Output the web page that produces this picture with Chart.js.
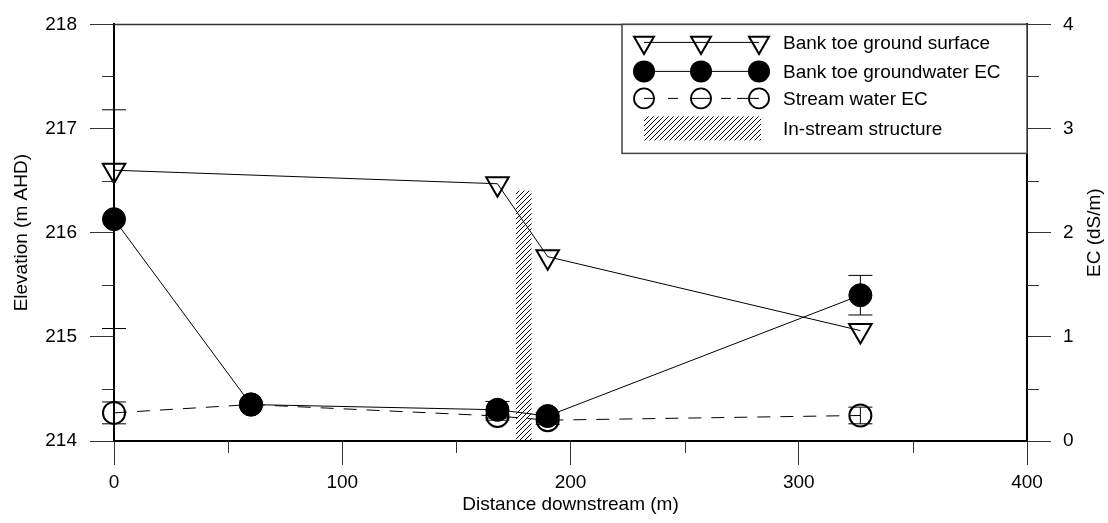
<!DOCTYPE html>
<html>
<head>
<meta charset="utf-8">
<script src="https://cdn.jsdelivr.net/npm/chart.js@4/dist/chart.umd.min.js"></script>
<style>
  body { margin: 0; background: #fff; }
  #wrap { width: 1108px; height: 523px; }
</style>
</head>
<body>
<div id="wrap"><canvas id="myChart"></canvas></div>
<script>
// values
const surfaceDist = [0, 168, 190, 327];
const surfaceElev = [216.6, 216.47, 215.77, 215.06];

const gwDist = [0, 60, 168, 190, 327];
const gwEC = [2.13, 0.35, 0.30, 0.24, 1.40];
const gwErr = [1.05, 0, 0.08, 0.03, 0.19];

const swDist = [0, 60, 168, 190, 327];
const swEC = [0.27, 0.35, 0.24, 0.20, 0.245];
const swErr = [0.105, 0, 0.04, 0.04, 0.08];

const structureDist = [179.5];
const structureTop = [216.4];
const elevBase = 214;

const xTicks = [0, 100, 200, 300, 400];
const elevTicks = [214, 215, 216, 217, 218];
const ecTicks = [0, 1, 2, 3, 4];

const FONT = "'Liberation Sans', Arial, sans-serif";
Chart.defaults.font.family = FONT;
Chart.defaults.font.size = 19;
Chart.defaults.color = '#000';

function hatch() {
  const c = document.createElement('canvas');
  c.width = 5; c.height = 5;
  const g = c.getContext('2d');
  g.strokeStyle = '#000';
  g.lineWidth = 1;
  g.beginPath();
  g.moveTo(0, 5); g.lineTo(5, 0);
  g.moveTo(-1, 1); g.lineTo(1, -1);
  g.moveTo(4, 6); g.lineTo(6, 4);
  g.stroke();
  return g.createPattern(c, 'repeat');
}
const hatchFill = hatch();

function pts(xs, ys) { return xs.map((x, i) => ({ x: x, y: ys[i] })); }

function tri(ctx, x, y, r) {
  ctx.beginPath();
  ctx.moveTo(x, y + r);
  ctx.lineTo(x - r * Math.sin(Math.PI / 3), y - r / 2);
  ctx.lineTo(x + r * Math.sin(Math.PI / 3), y - r / 2);
  ctx.closePath();
  ctx.stroke();
}
function circ(ctx, x, y, r, fill) {
  ctx.beginPath();
  ctx.arc(x, y, r, 0, Math.PI * 2);
  if (fill) ctx.fill(); else ctx.stroke();
}

// error bars, drawn under the markers
const errorBars = {
  id: 'errorBars',
  beforeDatasetsDraw(chart) {
    const ctx = chart.ctx;
    chart.data.datasets.forEach(ds => {
      if (!ds.errors) return;
      const xs = chart.scales.x, ys = chart.scales[ds.yAxisID];
      ctx.save();
      ctx.strokeStyle = '#000';
      ctx.lineWidth = 1;
      ds.data.forEach((p, j) => {
        const e = ds.errors[j];
        if (!e) return;
        const px = xs.getPixelForValue(p.x);
        const t = ys.getPixelForValue(p.y + e), b = ys.getPixelForValue(p.y - e);
        ctx.beginPath();
        ctx.moveTo(px, t); ctx.lineTo(px, b);
        ctx.moveTo(px - 12, t); ctx.lineTo(px + 12, t);
        ctx.moveTo(px - 12, b); ctx.lineTo(px + 12, b);
        ctx.stroke();
      });
      ctx.restore();
    });
  }
};

// frame top, minor ticks, right title, legend
const extras = {
  id: 'extras',
  afterDraw(chart) {
    const ctx = chart.ctx, a = chart.chartArea;
    const sx = chart.scales.x, sl = chart.scales.yL, sr = chart.scales.yR;
    ctx.save();
    ctx.strokeStyle = '#333';
    ctx.lineWidth = 1.5;
    ctx.beginPath();
    ctx.moveTo(a.left, a.top); ctx.lineTo(a.right, a.top);
    ctx.stroke();

    ctx.lineWidth = 1;
    ctx.beginPath();
    for (let v = xTicks[0] + 50; v < xTicks[xTicks.length - 1]; v += 100) {
      const p = Math.round(sx.getPixelForValue(v)) + 0.5;
      ctx.moveTo(p, a.bottom); ctx.lineTo(p, a.bottom + 12);
    }
    for (let v = elevTicks[0] + 0.5; v < elevTicks[elevTicks.length - 1]; v += 1) {
      const p = Math.round(sl.getPixelForValue(v)) + 0.5;
      ctx.moveTo(a.left - 12, p); ctx.lineTo(a.left, p);
    }
    for (let v = ecTicks[0] + 0.5; v < ecTicks[ecTicks.length - 1]; v += 1) {
      const p = Math.round(sr.getPixelForValue(v)) + 0.5;
      ctx.moveTo(a.right, p); ctx.lineTo(a.right + 12, p);
    }
    ctx.stroke();

    // right axis title, reading upward
    ctx.fillStyle = '#000';
    ctx.font = '19px ' + FONT;
    ctx.textAlign = 'center';
    ctx.textBaseline = 'middle';
    ctx.save();
    ctx.translate(1095, (a.top + a.bottom) / 2);
    ctx.rotate(-Math.PI / 2);
    ctx.fillText('EC (dS/m)', 0, 0);
    ctx.restore();

    // legend
    const R = a.right, L = R - 405, T = a.top, B = T + 129;
    ctx.fillStyle = '#fff';
    ctx.fillRect(L, T, R - L, B - T);
    ctx.strokeStyle = '#444';
    ctx.lineWidth = 1.5;
    ctx.strokeRect(L, T, R - L, B - T);

    const mx = [L + 22, L + 79, L + 137];
    const rows = [T + 18, T + 47, T + 74, T + 104];
    const ds = chart.data.datasets;
    ctx.strokeStyle = '#000';
    ctx.fillStyle = '#000';

    ctx.lineWidth = 1;
    ctx.beginPath(); ctx.moveTo(mx[0], rows[0]); ctx.lineTo(mx[2], rows[0]); ctx.stroke();
    ctx.lineWidth = 2;
    mx.forEach(x => tri(ctx, x, rows[0], 11.5));

    ctx.lineWidth = 1;
    ctx.beginPath(); ctx.moveTo(mx[0], rows[1]); ctx.lineTo(mx[2], rows[1]); ctx.stroke();
    mx.forEach(x => circ(ctx, x, rows[1], 11, true));

    ctx.lineWidth = 1;
    ctx.beginPath();
    [[mx[0], mx[0] + 11], [mx[0] + 24, mx[0] + 34], [mx[1] - 11, mx[1] + 11],
     [mx[1] + 20, mx[1] + 30], [mx[2] - 22, mx[2]]].forEach(s => {
      ctx.moveTo(s[0], rows[2]); ctx.lineTo(s[1], rows[2]);
    });
    ctx.stroke();
    ctx.lineWidth = 1.8;
    mx.forEach(x => circ(ctx, x, rows[2], 10, false));

    ctx.fillStyle = hatchFill;
    ctx.fillRect(mx[0], rows[3] - 12, mx[2] + 2 - mx[0], 24);

    ctx.fillStyle = '#000';
    ctx.textAlign = 'left';
    ctx.font = '19px ' + FONT;
    rows.forEach((y, i) => ctx.fillText(ds[i].label, L + 161, y + 1));
    ctx.restore();
  }
};

const ctx = document.getElementById('myChart').getContext('2d');

new Chart(ctx, {
  type: 'line',
  data: {
    datasets: [
      {
        label: 'Bank toe ground surface',
        yAxisID: 'yL',
        data: pts(surfaceDist, surfaceElev),
        borderColor: '#000',
        borderWidth: 1,
        pointStyle: 'triangle',
        rotation: 180,
        pointRadius: 13,
        pointBorderWidth: 2,
        pointBorderColor: '#000',
        pointBackgroundColor: 'rgba(0,0,0,0)',
        clip: false
      },
      {
        label: 'Bank toe groundwater EC',
        yAxisID: 'yR',
        data: pts(gwDist, gwEC),
        errors: gwErr,
        borderColor: '#000',
        borderWidth: 1,
        pointStyle: 'circle',
        pointRadius: 11.5,
        pointBorderWidth: 1,
        pointBorderColor: '#000',
        pointBackgroundColor: '#000',
        clip: false
      },
      {
        label: 'Stream water EC',
        yAxisID: 'yR',
        data: pts(swDist, swEC),
        errors: swErr,
        borderColor: '#000',
        borderWidth: 1,
        borderDash: [13, 10],
        pointStyle: 'circle',
        pointRadius: 11,
        pointBorderWidth: 2,
        pointBorderColor: '#000',
        pointBackgroundColor: 'rgba(0,0,0,0)',
        clip: false
      },
      {
        type: 'bar',
        label: 'In-stream structure',
        yAxisID: 'yL',
        data: structureDist.map((x, i) => ({ x: x, y: [elevBase, structureTop[i]] })),
        backgroundColor: hatchFill,
        borderWidth: 0,
        barThickness: 15
      }
    ]
  },
  options: {
    responsive: true,
    maintainAspectRatio: false,
    animation: false,
    events: [],
    layout: { padding: { top: 15, left: 0, right: 0, bottom: 0 } },
    plugins: {
      legend: { display: false },
      tooltip: { enabled: false }
    },
    scales: {
      x: {
        type: 'linear',
        position: 'bottom',
        offset: false,
        min: xTicks[0],
        max: xTicks[xTicks.length - 1],
        afterBuildTicks: s => { s.ticks = xTicks.map(v => ({ value: v })); },
        afterFit: s => { s.height = 82; },
        ticks: { padding: 6, maxRotation: 0, color: '#000' },
        grid: { offset: false, drawOnChartArea: false, drawTicks: true, tickLength: 24, color: '#333', lineWidth: 1 },
        border: { display: true, color: '#000', width: 2 },
        title: { display: true, text: 'Distance downstream (m)', padding: { top: 0, bottom: 7 }, color: '#000' }
      },
      yL: {
        type: 'linear',
        position: 'left',
        min: elevTicks[0],
        max: elevTicks[elevTicks.length - 1],
        afterBuildTicks: s => { s.ticks = elevTicks.map(v => ({ value: v })); },
        afterFit: s => { s.width = 114; },
        ticks: { padding: 13, color: '#000' },
        grid: { drawOnChartArea: false, drawTicks: true, tickLength: 24, color: '#333', lineWidth: 1 },
        border: { display: true, color: '#000', width: 2 },
        title: { display: true, text: 'Elevation (m AHD)', padding: { top: 10, bottom: 0 }, color: '#000' }
      },
      yR: {
        type: 'linear',
        position: 'right',
        min: ecTicks[0],
        max: ecTicks[ecTicks.length - 1],
        afterBuildTicks: s => { s.ticks = ecTicks.map(v => ({ value: v })); },
        afterFit: s => { s.width = 81; },
        ticks: { padding: 12, color: '#000' },
        grid: { drawOnChartArea: false, drawTicks: true, tickLength: 24, color: '#333', lineWidth: 1 },
        border: { display: true, color: '#000', width: 2 }
      }
    }
  },
  plugins: [errorBars, extras]
});
</script>
</body>
</html>
